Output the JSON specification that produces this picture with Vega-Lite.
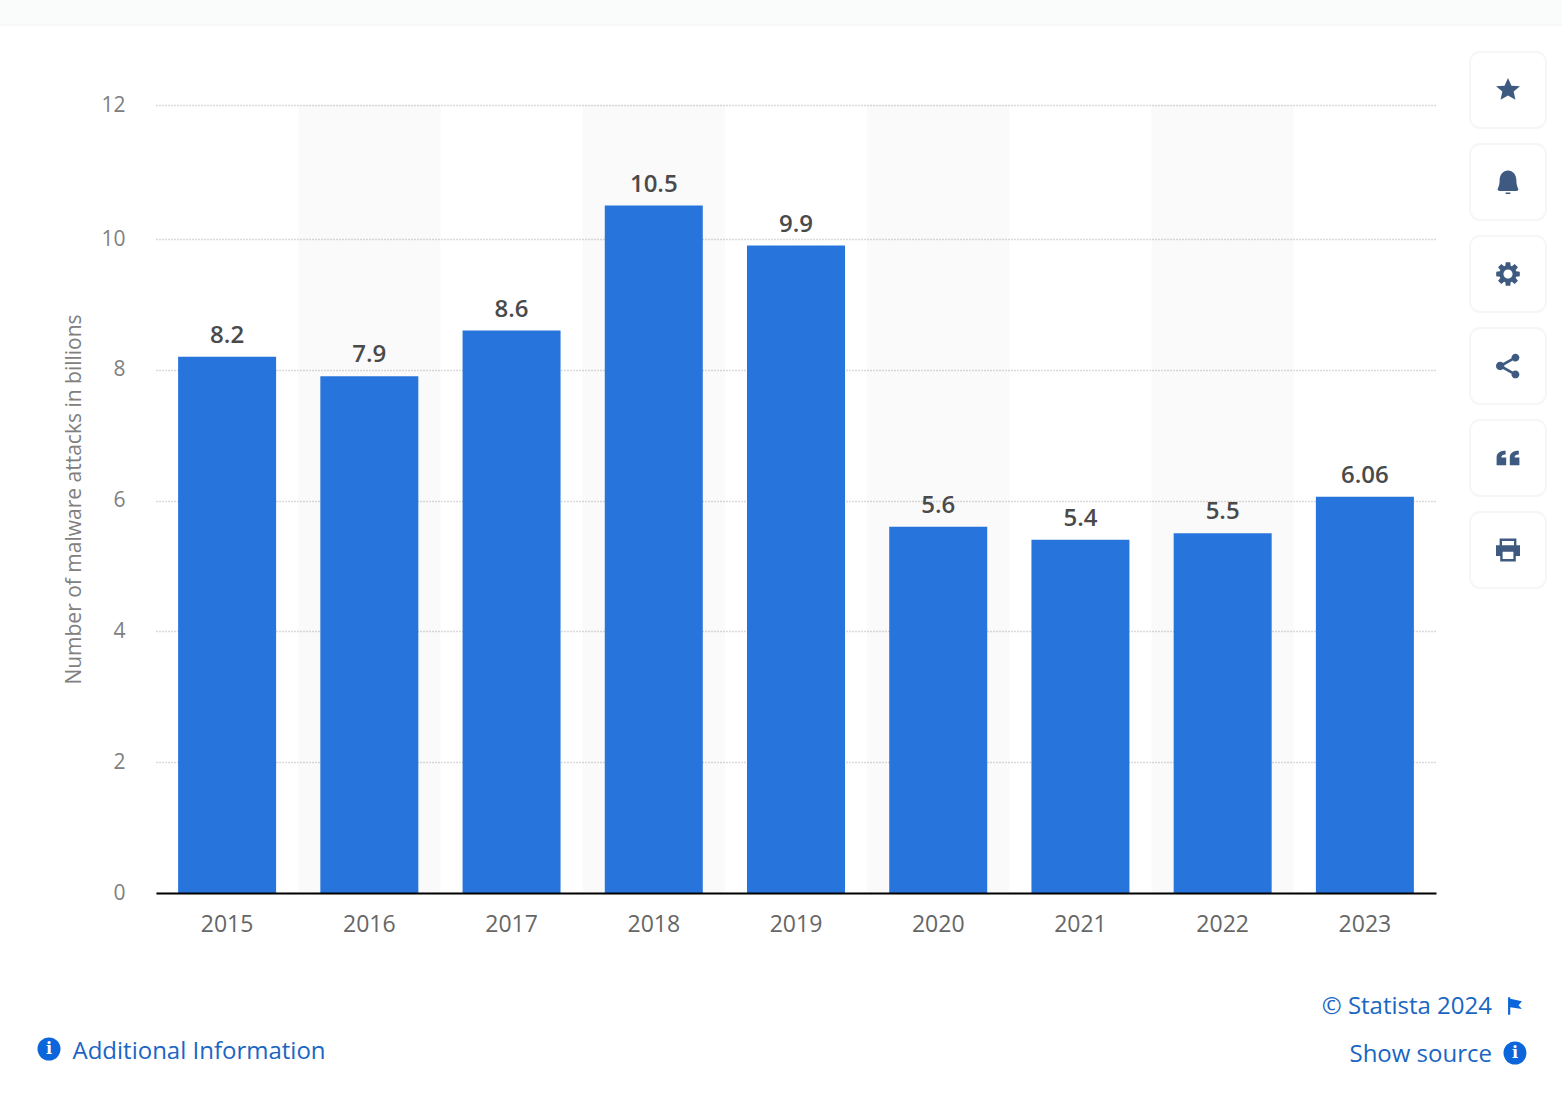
{
"$schema":"https://vega.github.io/schema/vega-lite/v6.json",
"width":1280,"height":788,
"autosize":"none",
"padding":{"left":156,"top":105,"right":126,"bottom":212},
"background":"#ffffff",
"config":{"view":{"stroke":null},"font":"Open Sans"},
"title":{"text":"© Statista 2024","subtitle":"Show source","orient":"bottom","anchor":"end","frame":"group","offset":-70,"dx":56,"font":"Open Sans","fontSize":24,"fontWeight":"normal","color":"#1a66c2","subtitleFont":"Open Sans","subtitleFontSize":24,"subtitleColor":"#1a66c2","subtitlePadding":24},
"resolve":{"scale":{"x":"independent","y":"independent","shape":"independent"}},
"layer":[
{"data":{"values":[{"strip":"header","page":"top"}]},
 "mark":{"type":"bar","color":"#fafbfb","stroke":"#f1f3f4","strokeWidth":1},
 "encoding":{"x":{"field":"strip","type":"nominal","axis":null,"scale":{"type":"band","range":[-160,1410],"paddingInner":0,"paddingOuter":0}},
 "y":{"field":"page","type":"nominal","axis":null,"scale":{"type":"band","range":[-110,-80],"paddingInner":0,"paddingOuter":0}}}},
{"data":{"values":[
{"year":"2015","value":8.2},{"year":"2016","value":7.9},{"year":"2017","value":8.6},{"year":"2018","value":10.5},{"year":"2019","value":9.9},{"year":"2020","value":5.6},{"year":"2021","value":5.4},{"year":"2022","value":5.5},{"year":"2023","value":6.06}]},
"layer":[
{"transform":[{"filter":"indexof(['2016','2018','2020','2022'],datum.year)>=0"}],
 "mark":{"type":"bar","color":"#000000","opacity":0.02,"width":{"band":1}},
 "encoding":{"x":{"field":"year","type":"nominal","scale":{"paddingInner":0,"paddingOuter":0}},"y":{"datum":12,"type":"quantitative"}}},
{"mark":{"type":"bar","color":"#2775dc","width":98},
 "encoding":{"x":{"field":"year","type":"nominal","title":"Additional Information","axis":{"labelAngle":0,"labelAlign":"center","labelBaseline":"top","bandPosition":0.5,"labelColor":"#666666","labelFontSize":23,"labelPadding":20,"ticks":false,"domainColor":"#000000","domainWidth":2,"grid":false,"zindex":1,"titleX":-84,"titleY":165,"titleAlign":"left","titleBaseline":"alphabetic","titleColor":"#1a66c2","titleFontSize":24,"titleFontWeight":"normal"}},
 "y":{"field":"value","type":"quantitative","scale":{"domain":[0,10,12],"range":[788,134,0]},"title":"Number of malware attacks in billions","axis":{"values":[0,2,4,6,8,10,12],"format":"d","domain":false,"ticks":false,"labelColor":"#808080","labelFontSize":21,"labelPadding":31,"labelOffset":0,"grid":true,"gridColor":"#b5b5b5","gridDash":[1,2],"gridWidth":1.5,"titleColor":"#808080","titleFontSize":21,"titleFontWeight":"normal","titlePadding":16}}}},
{"mark":{"type":"text","dy":-21,"fontSize":24,"fontWeight":600,"color":"#4a4a4a"},
 "encoding":{"x":{"field":"year","type":"nominal"},"y":{"field":"value","type":"quantitative"},"text":{"field":"value","type":"nominal"}}}
]},
{"data":{"values":[{"rail":"tools","button":"favourite"},{"rail":"tools","button":"alert"},{"rail":"tools","button":"settings"},{"rail":"tools","button":"share"},{"rail":"tools","button":"cite"},{"rail":"tools","button":"print"}]},
"layer":[
{"mark":{"type":"bar","color":"#ffffff","stroke":"#f5f6f8","strokeWidth":2,"cornerRadius":10},
 "encoding":{"x":{"field":"rail","type":"nominal","axis":null,"scale":{"type":"band","range":[1314,1390],"paddingInner":0,"paddingOuter":0}},
 "y":{"field":"button","type":"nominal","sort":null,"axis":null,"scale":{"type":"band","range":[-53,483],"paddingInner":0.174,"paddingOuter":0}}}},
{"mark":{"type":"point","filled":true,"opacity":1,"size":576,"color":"#3f5a80"},
 "encoding":{"x":{"field":"rail","type":"nominal","axis":null},"y":{"field":"button","type":"nominal","sort":null,"axis":null},
 "shape":{"field":"button","type":"nominal","legend":null,"scale":{"domain":["favourite","alert","settings","share","cite","print"],"range":[
 "M0,-1 L0.29,-0.36 L1,-0.31 L0.47,0.13 L0.62,0.81 L0,0.45 L-0.62,0.81 L-0.47,0.13 L-1,-0.31 L-0.29,-0.36 Z",
 "M-0.85,0.55 C-0.85,0.55 -0.7,0.3 -0.7,-0.1 C-0.7,-0.6 -0.4,-0.95 0,-0.95 C0.4,-0.95 0.7,-0.6 0.7,-0.1 C0.7,0.3 0.85,0.55 0.85,0.55 C0.9,0.7 0.8,0.75 0.7,0.75 L-0.7,0.75 C-0.8,0.75 -0.9,0.7 -0.85,0.55 Z M-0.2,0.88 L0.2,0.88 L0.2,1 L-0.2,1 Z",
 "M-.222,-.685 L-.191,-.982 L.191,-.982 L.222,-.685 L.327,-.642 L.559,-.829 L.829,-.559 L.642,-.327 L.685,-.222 L.982,-.191 L.982,.191 L.685,.222 L.642,.327 L.829,.559 L.559,.829 L.327,.642 L.222,.685 L.191,.982 L-.191,.982 L-.222,.685 L-.327,.642 L-.559,.829 L-.829,.559 L-.642,.327 L-.685,.222 L-.982,.191 L-.982,-.191 L-.685,-.222 L-.642,-.327 L-.829,-.559 L-.559,-.829 L-.327,-.642 Z M0,-.38 A.38,.38 0 1 0 0,.38 A.38,.38 0 1 0 0,-.38 Z",
 "M.29,-.7 A.33,.33 0 1 1 .95,-.7 A.33,.33 0 1 1 .29,-.7 Z M.29,.7 A.33,.33 0 1 1 .95,.7 A.33,.33 0 1 1 .29,.7 Z M-1,0 A.35,.35 0 1 1 -.3,0 A.35,.35 0 1 1 -1,0 Z M-.65,-.12 L.55,-.8 L.65,-.6 L-.55,.08 Z M-.65,.12 L-.55,-.08 L.65,.6 L.55,.8 Z",
 "M-.95,.6 L-.95,-.05 C-.95,-.45 -.6,-.6 -.2,-.6 L-.2,-.3 C-.45,-.3 -.55,-.2 -.55,-.05 L-.15,-.05 L-.15,.6 Z M.15,.6 L.15,-.05 C.15,-.45 .5,-.6 .9,-.6 L.9,-.3 C.65,-.3 .55,-.2 .55,-.05 L.95,-.05 L.95,.6 Z",
 "M-.7,-.95 L.7,-.95 L.7,-.4 L1,-.4 L1,.5 L.65,.5 L.65,.95 L-.65,.95 L-.65,.5 L-1,.5 L-1,-.4 L-.7,-.4 Z M-.5,-.75 L-.5,-.4 L.5,-.4 L.5,-.75 Z M-.45,.15 L-.45,.75 L.45,.75 L.45,.15 Z"
 ]}}}}
]},
{"data":{"values":[{"link":"additional"},{"link":"source"}]},
"layer":[
{"mark":{"type":"point","shape":"circle","filled":true,"opacity":1,"size":529,"color":"#0b66dc"},
 "encoding":{"x":{"field":"link","type":"nominal","axis":null,"scale":{"type":"point","range":[-107,1359],"padding":0}},
 "y":{"field":"link","type":"nominal","axis":null,"scale":{"type":"point","range":[944,948],"padding":0}}}},
{"mark":{"type":"text","text":"i","font":"DejaVu Serif","fontWeight":"bold","fontSize":16,"color":"#ffffff"},
 "encoding":{"x":{"field":"link","type":"nominal","axis":null},"y":{"field":"link","type":"nominal","axis":null}}}
]},
{"data":{"values":[{"link":"flag"}]},
 "mark":{"type":"point","filled":true,"opacity":1,"size":300,"color":"#0b66dc","shape":"M-.8,-1 L-.55,-1 L-.55,-.85 L.8,-.55 L.4,-.1 L.8,.35 L-.55,.15 L-.55,1 L-.8,1 Z"},
 "encoding":{"x":{"field":"link","type":"nominal","axis":null,"scale":{"type":"band","range":[1349,1369]}},
 "y":{"field":"link","type":"nominal","axis":null,"scale":{"type":"band","range":[891,911]}}}}
]}
